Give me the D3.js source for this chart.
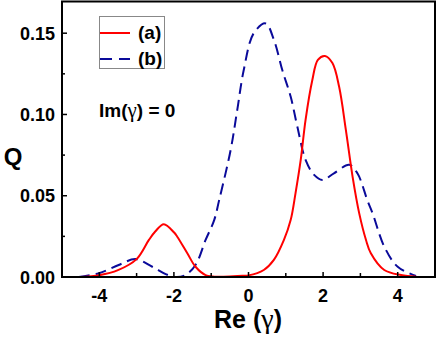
<!DOCTYPE html>
<html>
<head>
<meta charset="utf-8">
<script src="https://cdn.jsdelivr.net/npm/d3@7"></script>
<style>
  body { margin: 0; background: #fff; }
  text { font-family: "Liberation Sans", Arial, sans-serif; font-weight: bold; }
  .greek { font-family: "Liberation Serif", "DejaVu Serif", serif; font-weight: normal; }
</style>
</head>
<body>
<script>
// curve (a), solid red
var reA = [-4.5, -4.0, -3.5, -3.0, -2.67, -2.5, -2.27, -2.0, -1.91, -1.64, -1.42, -1.15, -0.7, -0.16, 0.0,
           0.41, 0.68, 0.95, 1.13, 1.26, 1.40, 1.53, 1.71, 1.86, 2.05, 2.25, 2.43, 2.61, 2.79, 2.97,
           3.15, 3.28, 3.64, 4.09, 4.5];
var qA = [0, 0.0011, 0.0042, 0.011, 0.0228, 0.028, 0.0325, 0.0275, 0.0248, 0.0146, 0.0063, 0.0012, 0.0002, 0.0008, 0.001,
          0.0043, 0.0105, 0.0228, 0.035, 0.0515, 0.072, 0.0967, 0.121, 0.1336, 0.136, 0.1316, 0.117, 0.0905, 0.0618, 0.039,
          0.0228, 0.0146, 0.0043, 0.0012, 0.0002];

// curve (b), dashed blue
var reB = [-4.55, -4.01, -3.48, -3.03, -2.58, -2.22, -1.95, -1.69, -1.42, -1.15, -0.92, -0.79, -0.48, -0.30, -0.13,
           0.14, 0.46, 0.68, 0.91, 1.13, 1.31, 1.53, 1.76, 1.98, 2.29, 2.70, 2.92, 3.19, 3.33, 3.64, 4.0, 4.49];
var qB = [0, 0.0023, 0.0074, 0.011, 0.0063, 0.0018, 0, 0.0012, 0.0074, 0.0228, 0.035, 0.047, 0.078, 0.103, 0.127,
          0.150, 0.156, 0.146, 0.127, 0.111, 0.0925, 0.072, 0.0628, 0.0597, 0.0638, 0.069, 0.0638, 0.047, 0.039, 0.0187, 0.0063, 0.0006];

var xTicks = [-4, -2, 0, 2, 4];
var xMinor = [-3, -1, 1, 3];
var yTicks = [0, 0.05, 0.10, 0.15];
var yMinor = [0.025, 0.075, 0.125];
var legendNames = ["(a)", "(b)"];

var width = 436, height = 337;
var pLeft = 62, pRight = 435, pTop = 1.5, pBottom = 277;

var svg = d3.select("body").append("svg")
  .attr("width", width)
  .attr("height", height);

var x = d3.scaleLinear().domain([-5, 5]).range([pLeft, pRight]);
var y = d3.scaleLinear().domain([0, 0.1695]).range([pBottom, pTop]);

// curves
var line = d3.line()
  .x(function(d) { return x(d[0]); })
  .y(function(d) { return Math.min(y(d[1]), pBottom); })
  .curve(d3.curveCatmullRom.alpha(0.5));

svg.append("path")
  .datum(reB.map(function(v, i) { return [v, qB[i]]; }))
  .attr("d", line)
  .attr("fill", "none")
  .attr("stroke", "#0a0a9a")
  .attr("stroke-width", 2)
  .attr("stroke-dasharray", "11,6");

svg.append("path")
  .datum(reA.map(function(v, i) { return [v, qA[i]]; }))
  .attr("d", line)
  .attr("fill", "none")
  .attr("stroke", "#ff0000")
  .attr("stroke-width", 2);

// frame
svg.append("rect")
  .attr("x", pLeft).attr("y", pTop)
  .attr("width", pRight - pLeft).attr("height", pBottom - pTop)
  .attr("fill", "none")
  .attr("stroke", "#000")
  .attr("stroke-width", 2);

// x axis, inward ticks
svg.selectAll(".xmaj").data(xTicks).enter().append("line")
  .attr("x1", function(d) { return x(d); }).attr("x2", function(d) { return x(d); })
  .attr("y1", pBottom).attr("y2", pBottom - 5)
  .attr("stroke", "#000").attr("stroke-width", 1.5);
svg.selectAll(".xmin").data(xMinor).enter().append("line")
  .attr("x1", function(d) { return x(d); }).attr("x2", function(d) { return x(d); })
  .attr("y1", pBottom).attr("y2", pBottom - 4)
  .attr("stroke", "#000").attr("stroke-width", 1.5);
svg.selectAll(".xlab").data(xTicks).enter().append("text")
  .attr("x", function(d) { return x(d); })
  .attr("y", 302)
  .attr("text-anchor", "middle")
  .attr("font-size", 18)
  .text(function(d) { return d; });

// y axis, inward ticks
svg.selectAll(".ymaj").data(yTicks).enter().append("line")
  .attr("x1", pLeft).attr("x2", pLeft + 5)
  .attr("y1", function(d) { return y(d); }).attr("y2", function(d) { return y(d); })
  .attr("stroke", "#000").attr("stroke-width", 1.5);
svg.selectAll(".ymin").data(yMinor).enter().append("line")
  .attr("x1", pLeft).attr("x2", pLeft + 3)
  .attr("y1", function(d) { return y(d); }).attr("y2", function(d) { return y(d); })
  .attr("stroke", "#000").attr("stroke-width", 1.5);
svg.selectAll(".ylab").data(yTicks).enter().append("text")
  .attr("x", 55)
  .attr("y", function(d) { return y(d) + 6.5; })
  .attr("text-anchor", "end")
  .attr("font-size", 18)
  .text(function(d) { return d3.format(".2f")(d); });

// axis titles
var xt = svg.append("text")
  .attr("x", 248).attr("y", 328)
  .attr("text-anchor", "middle")
  .attr("font-size", 25);
xt.append("tspan").text("Re (");
xt.append("tspan").attr("class", "greek").attr("font-size", 28).text("γ");
xt.append("tspan").text(")");

svg.append("text")
  .attr("x", 13).attr("y", 165)
  .attr("text-anchor", "middle")
  .attr("font-size", 24)
  .text("Q");

// annotation
var ann = svg.append("text")
  .attr("x", 99).attr("y", 117)
  .attr("font-size", 19);
ann.append("tspan").text("Im(");
ann.append("tspan").attr("class", "greek").attr("font-size", 21).text("γ");
ann.append("tspan").text(") = 0");

// legend
svg.append("rect")
  .attr("x", 99.5).attr("y", 16.5)
  .attr("width", 65).attr("height", 52)
  .attr("fill", "none")
  .attr("stroke", "#888")
  .attr("stroke-width", 1);

var legend = svg.selectAll(".legend")
  .data(legendNames)
  .enter().append("g")
  .attr("transform", function(d, i) { return "translate(0," + i * 26 + ")"; });

legend.append("line")
  .attr("x1", 100).attr("x2", 130)
  .attr("y1", 33).attr("y2", 33)
  .attr("stroke", function(d, i) { return i == 0 ? "#ff0000" : "#0a0a9a"; })
  .attr("stroke-width", 2)
  .attr("stroke-dasharray", function(d, i) { return i == 0 ? null : "12,7"; });

legend.append("text")
  .attr("x", 138).attr("y", 39)
  .attr("font-size", 19)
  .text(function(d) { return d; });
</script>
</body>
</html>
